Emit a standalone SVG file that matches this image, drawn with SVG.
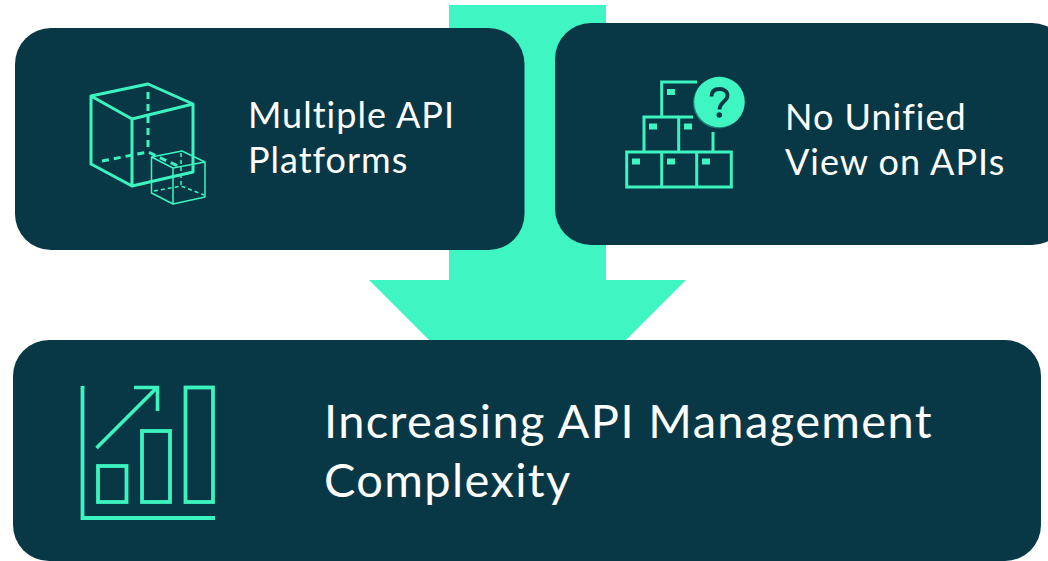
<svg xmlns="http://www.w3.org/2000/svg" width="1048" height="561" viewBox="0 0 1048 561">
<style>
.card{fill:#083845}
.ic{fill:none;stroke:#3cf4c0;stroke-linejoin:miter}
.rj{stroke-linejoin:round}
.f{fill:#3ff5c1}
text{font-family:"Lato","Liberation Sans",sans-serif;fill:#fff;font-variant-ligatures:none}
.t1{font-size:36px;letter-spacing:1px}
.t2{font-size:47px;letter-spacing:1.370px}
</style>
<rect width="1048" height="561" fill="#fff"/>
<g id="connectors">
<path id="arrow" class="f" d="M449 5H606V280H686L606 360H449L369 280H449Z"/>
</g>
<g id="node-platforms">
<rect class="card" x="15" y="28" width="509.500" height="222" rx="36"/>
<g class="ic rj" stroke-width="3">
<path d="M91 96L148 84L193 104L132 119ZM91 96V164L132 186V119M132 186L193 172V104"/>
<path stroke-dasharray="7 5" stroke-linejoin="miter" d="M148 92V150M102 161L148 152L180 167"/>
</g>
<g class="ic rj" stroke-width="1.500">
<path d="M151.500 157L182 151L205 162L173 168ZM151.500 157V193L173 204V168M173 204L205 197V162"/>
<path stroke-dasharray="4 3" d="M181 153V186M154 191L181 186L204 195"/>
</g>
<text class="t1" x="248" y="128">Multiple API</text>
<text class="t1" x="248" y="173">Platforms</text>
</g>
<g id="node-unified">
<rect class="card" x="555" y="23" width="513" height="222" rx="36"/>
<g class="ic" stroke-width="3">
<path d="M626.700 152H731.300V187H626.700ZM661.700 152V187M696.700 152V187"/>
<path d="M644 152V117H693M678.700 117V152M713 132V152"/>
<path d="M661.700 117V82H697"/>
</g>
<g class="f">
<rect x="667" y="89" width="8" height="6"/>
<rect x="649" y="123.500" width="8" height="6"/>
<rect x="684" y="123.500" width="8" height="6"/>
<rect x="632" y="158.500" width="8" height="6"/>
<rect x="667" y="158.500" width="8" height="6"/>
<rect x="702" y="158.500" width="8" height="6"/>
</g>
<circle cx="718.500" cy="103" r="25.500" fill="#1d7f78"/>
<circle class="f" cx="719.500" cy="102" r="25.300"/>
<path d="M711.500 96.500C711.500 91 715 89 719.500 89C724 89 727.500 91.500 727.500 95.500C727.500 101.500 719.500 102 719.500 109.500" fill="none" stroke="#083845" stroke-width="3.800"/>
<circle cx="719.300" cy="115" r="2.800" fill="#083845"/>
<text class="t1" x="785" y="130">No Unified</text>
<text class="t1" x="785" y="175">View on APIs</text>
</g>
<g id="node-complexity">
<rect class="card" x="13" y="340" width="1028" height="221" rx="36"/>
<g class="ic" stroke-width="3.800">
<path d="M82.500 386V518H215"/>
<rect x="98" y="466" width="28.500" height="36"/>
<rect x="142" y="431" width="28" height="71"/>
<rect x="185.500" y="387.500" width="27.500" height="114.500"/>
<path stroke-width="3.600" d="M96.500 448L156 388.500M134 387.500H157.500V411"/>
</g>
<text class="t2" x="324" y="438">Increasing API Management</text>
<text class="t2" x="324" y="497">Complexity</text>
</g>
</svg>
